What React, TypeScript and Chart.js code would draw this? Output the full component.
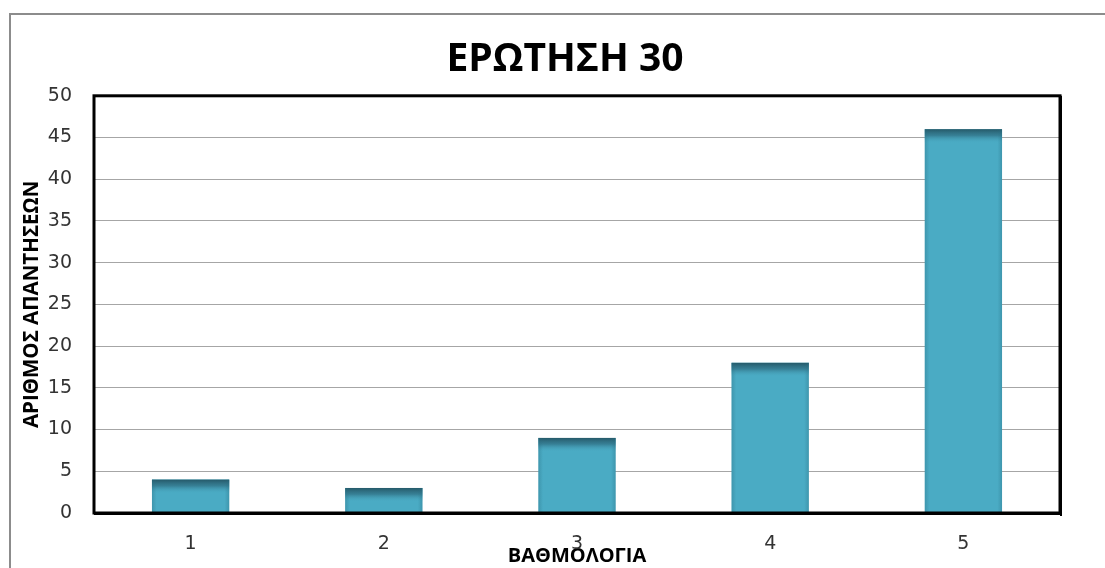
import React, { useEffect, useRef } from "react";
import { Chart, registerables } from "chart.js";

Chart.register(...registerables);

const categories = ["1", "2", "3", "4", "5"];
const responses = [4, 3, 9, 18, 46];
const yTicks = [0, 5, 10, 15, 20, 25, 30, 35, 40, 45, 50];
const chartTitle = "ΕΡΩΤΗΣΗ 30";
const xTitle = "ΒΑΘΜΟΛΟΓΙΑ";
const yTitle = "ΑΡΙΘΜΟΣ ΑΠΑΝΤΗΣΕΩΝ";

const FONT = "'Open Sans', 'DejaVu Sans', sans-serif";
const TICK_FONT = "'DejaVu Sans', sans-serif";

const framePlugin = {
  id: "frame",
  beforeDraw(chart: any) {
    const { ctx } = chart;
    ctx.save();
    ctx.strokeStyle = "#8c8c8c";
    ctx.lineWidth = 2;
    ctx.strokeRect(10, 14, chart.width + 20, chart.height + 20);
    ctx.restore();
  },
  afterDatasetsDraw(chart: any) {
    const { ctx, chartArea } = chart;
    const meta = chart.getDatasetMeta(0);
    ctx.save();
    meta.data.forEach((bar: any) => {
      const x0 = bar.x - bar.width / 2;
      const w = bar.width;
      const top = bar.y;
      const h = bar.base - bar.y;
      const band = Math.min(14, h);
      const g = ctx.createLinearGradient(0, top, 0, top + band);
      g.addColorStop(0, "rgba(35,85,100,0.95)");
      g.addColorStop(0.45, "rgba(45,105,125,0.65)");
      g.addColorStop(1, "rgba(74,171,196,0)");
      ctx.fillStyle = g;
      ctx.fillRect(x0, top, w, band);
      const gs = ctx.createLinearGradient(x0, 0, x0 + w, 0);
      gs.addColorStop(0, "rgba(40,110,130,0.35)");
      gs.addColorStop(0.06, "rgba(40,110,130,0)");
      gs.addColorStop(0.94, "rgba(40,110,130,0)");
      gs.addColorStop(1, "rgba(40,110,130,0.35)");
      ctx.fillStyle = gs;
      ctx.fillRect(x0, top, w, h);
    });
    ctx.strokeStyle = "#000";
    ctx.lineWidth = 3;
    ctx.strokeRect(chartArea.left, chartArea.top, chartArea.right - chartArea.left, chartArea.bottom - chartArea.top);
    ctx.fillStyle = "#000";
    ctx.fillRect(chartArea.right, chartArea.top, 2, chartArea.bottom - chartArea.top + 3);
    ctx.fillRect(chartArea.left, chartArea.bottom, chartArea.right - chartArea.left + 2, 2);
    ctx.restore();
  },
};

export default function App() {
  const ref = useRef<HTMLCanvasElement | null>(null);
  useEffect(() => {
    if (!ref.current) return;
    const chart = new Chart(ref.current, {
      type: "bar",
      data: {
        labels: categories,
        datasets: [
          {
            data: responses,
            backgroundColor: "#4aabc4",
            borderWidth: 0,
            categoryPercentage: 1,
            barPercentage: 0.4,
          },
        ],
      },
      options: {
        animation: false,
        responsive: false,
        layout: { padding: { left: 25, right: 0, top: 0, bottom: 0 } },
        plugins: {
          legend: { display: false },
          tooltip: { enabled: false },
          title: {
            display: true,
            text: chartTitle,
            color: "#000",
            font: { family: FONT, size: 39, weight: "bold" },
            padding: { top: 36, bottom: 13 },
          },
        },
        scales: {
          x: {
            grid: { display: false, drawTicks: false },
            border: { display: false },
            ticks: {
              color: "#333333",
              font: { family: TICK_FONT, size: 19 },
              padding: 20,
            },
            title: {
              display: true,
              text: xTitle,
              color: "#000",
              font: { family: FONT, size: 20, weight: "bold" },
              padding: { top: 0, bottom: 0 },
            },
            afterFit(scale: any) {
              scale.height = 55;
            },
          },
          y: {
            min: 0,
            max: 50,
            afterBuildTicks(scale: any) {
              scale.ticks = yTicks.map((v) => ({ value: v }));
            },
            grid: { color: "#a6a6a6", lineWidth: 1, drawTicks: false },
            border: { display: false },
            ticks: {
              color: "#333333",
              font: { family: TICK_FONT, size: 19 },
              padding: 22,
            },
            title: {
              display: true,
              text: yTitle,
              color: "#000",
              font: { family: FONT, size: 20.5, weight: "bold" },
              padding: { top: -5, bottom: 0 },
            },
            afterFit(scale: any) {
              scale.width = 69;
            },
          },
          yRight: {
            position: "right",
            display: true,
            grid: { display: false, drawTicks: false },
            border: { display: false },
            ticks: { display: false },
            afterFit(scale: any) {
              scale.width = 45;
            },
          },
        },
      },
      plugins: [framePlugin],
    });
    return () => chart.destroy();
  }, []);
  return (
    <div style={{ position: "fixed", left: 0, top: 0, width: 1105, height: 568, background: "#fff" }}>
      <canvas ref={ref} width={1105} height={568} style={{ display: "block" }} />
    </div>
  );
}
